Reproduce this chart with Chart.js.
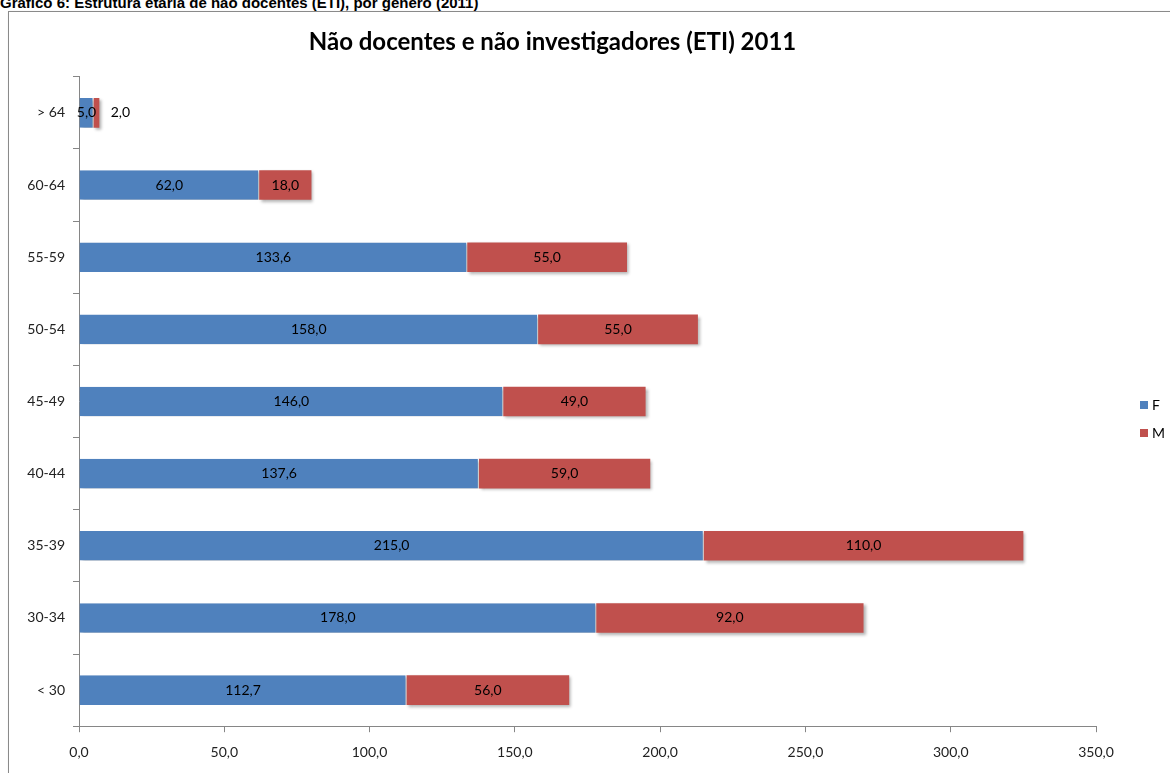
<!DOCTYPE html>
<html>
<head>
<meta charset="utf-8">
<script src="https://cdn.jsdelivr.net/npm/chart.js@4/dist/chart.umd.min.js"></script>
<style>
  body { margin: 0; width: 1170px; height: 773px; overflow: hidden; background: #fff; position: relative; }
  #caption { position: absolute; left: 0; top: -6px; line-height: 15px; font: bold 15px "Liberation Sans", Arial, sans-serif; color: #000; white-space: nowrap; }
  #frame { position: absolute; left: 8px; top: 11px; width: 1170px; height: 770px; border: 1px solid #8a8a8a; box-shadow: 1px 1px 2px rgba(0,0,0,0.25); }
  #wrap { position: absolute; left: 9px; top: 12px; width: 1161px; height: 761px; }
</style>
</head>
<body>
<div id="caption">Gráfico 6: Estrutura etária de não docentes (ETI), por género (2011)</div>
<div id="frame"></div>
<div id="wrap"><canvas id="myChart"></canvas></div>
<script>
// faixas etárias, de cima para baixo
var ageGroups = ['> 64', '60-64', '55-59', '50-54', '45-49', '40-44', '35-39', '30-34', '< 30'];
var valuesF = [5.0, 62.0, 133.6, 158.0, 146.0, 137.6, 215.0, 178.0, 112.7];
var valuesM = [2.0, 18.0, 55.0, 55.0, 49.0, 59.0, 110.0, 92.0, 56.0];
var xTicks = [0, 50, 100, 150, 200, 250, 300, 350];

var fontFam = 'Lato, "Open Sans", sans-serif';

function fmt(v) { return v.toFixed(1).replace('.', ','); }

// sombra leve das barras, como no Excel
var shadowPlugin = {
  id: 'shadow',
  beforeDatasetsDraw: function(chart) {
    var c = chart.ctx;
    c.save();
    c.shadowColor = 'rgba(0,0,0,0.3)';
    c.shadowBlur = 3;
    c.shadowOffsetX = 2;
    c.shadowOffsetY = 2;
  },
  afterDatasetsDraw: function(chart) {
    chart.ctx.restore();
  }
};

// valores dentro das barras
var labelPlugin = {
  id: 'barLabels',
  afterDatasetsDraw: function(chart) {
    var c = chart.ctx;
    c.save();
    c.font = '14px ' + fontFam;
    c.fillStyle = '#000';
    c.textBaseline = 'middle';
    c.textAlign = 'center';
    chart.data.datasets.forEach(function(ds, i) {
      chart.getDatasetMeta(i).data.forEach(function(bar, j) {
        var w = Math.abs(bar.x - bar.base);
        var x = (bar.x + bar.base) / 2;
        if (i == 1 && w < 20) x = bar.x + 21;
        c.fillText(fmt(ds.data[j]), x, bar.y);
      });
    });
    c.restore();
  }
};

// legenda à direita
var legendPlugin = {
  id: 'sideLegend',
  afterDraw: function(chart) {
    var c = chart.ctx;
    var items = [['F', '#4F81BD'], ['M', '#C0504D']];
    c.save();
    c.font = '14px ' + fontFam;
    c.textBaseline = 'middle';
    items.forEach(function(it, k) {
      var y = 393 + k * 28;
      c.fillStyle = it[1];
      c.fillRect(1131, y - 4, 8, 8);
      c.fillStyle = '#000';
      c.fillText(it[0], 1143, y);
    });
    c.restore();
  }
};

var ctx = document.getElementById('myChart').getContext('2d');
var myChart = new Chart(ctx, {
  type: 'bar',
  data: {
    labels: ageGroups,
    datasets: [
      { label: 'F', data: valuesF, backgroundColor: '#4F81BD', borderColor: '#ffffff', borderWidth: { right: 1 }, borderSkipped: false },
      { label: 'M', data: valuesM, backgroundColor: '#C0504D', borderColor: '#ffffff', borderWidth: 0 }
    ]
  },
  options: {
    indexAxis: 'y',
    responsive: true,
    maintainAspectRatio: false,
    animation: false,
    datasets: { bar: { categoryPercentage: 1.0, barPercentage: 0.41 } },
    layout: { padding: { left: 0, right: 74, top: 0, bottom: 0 } },
    plugins: {
      legend: { display: false },
      tooltip: { enabled: false },
      title: {
        display: true,
        text: 'Não docentes e não investigadores (ETI) 2011',
        color: '#000',
        font: { family: fontFam, size: 24, weight: 'bold' },
        padding: { top: 16, bottom: 20 }
      }
    },
    scales: {
      x: {
        stacked: true,
        min: 0,
        max: 350,
        afterBuildTicks: function(axis) { axis.ticks = xTicks.map(function(v) { return { value: v }; }); },
        ticks: {
          color: '#222',
          font: { family: fontFam, size: 14 },
          padding: 12,
          callback: function(v) { return fmt(v); }
        },
        grid: { drawOnChartArea: false, drawTicks: true, tickLength: 6, color: '#868686' },
        border: { color: '#868686' }
      },
      y: {
        stacked: true,
        afterFit: function(axis) { axis.width = 70; },
        ticks: {
          color: '#222',
          font: { family: fontFam, size: 14 },
          padding: 8
        },
        grid: { offset: true, drawOnChartArea: false, drawTicks: true, tickLength: 6, color: '#868686' },
        border: { color: '#868686' }
      }
    }
  },
  plugins: [shadowPlugin, labelPlugin, legendPlugin]
});
</script>
</body>
</html>
